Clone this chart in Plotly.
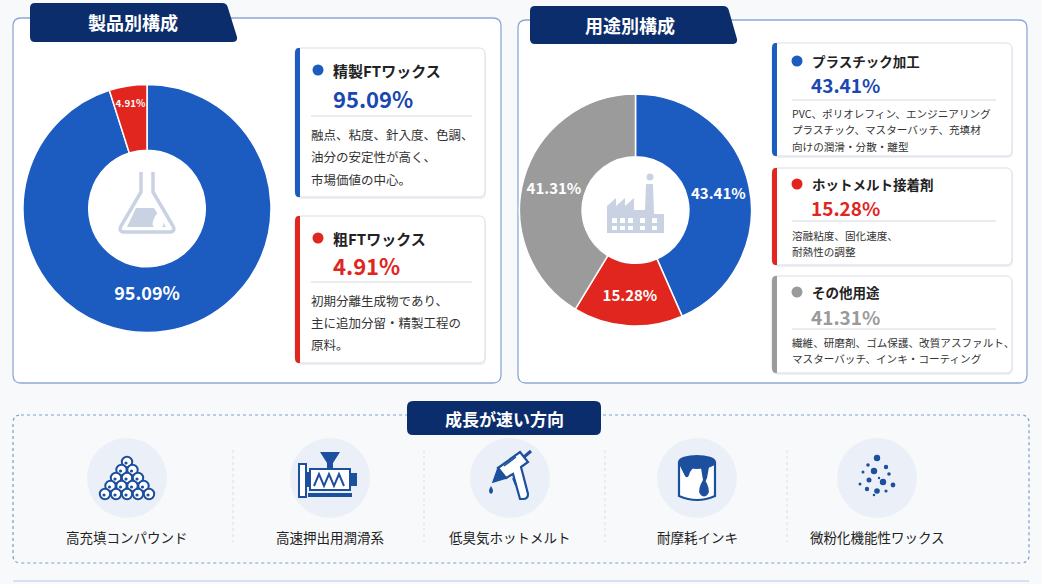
import plotly.graph_objects as go

W, H = 1042, 584
FONT = "Noto Sans CJK JP"

# Data
product_labels = ["精製FTワックス", "粗FTワックス"]
product_shares = [95.09, 4.91]
product_notes = [
    ["融点、粘度、針入度、色調、", "油分の安定性が高く、", "市場価値の中心。"],
    ["初期分離生成物であり、", "主に追加分留・精製工程の", "原料。"],
]

use_labels = ["プラスチック加工", "ホットメルト接着剤", "その他用途"]
use_shares = [43.41, 15.28, 41.31]
use_notes = [
    ["PVC、ポリオレフィン、エンジニアリング", "プラスチック、マスターバッチ、充填材", "向けの潤滑・分散・離型"],
    ["溶融粘度、固化速度、", "耐熱性の調整"],
    ["繊維、研磨剤、ゴム保護、改質アスファルト、", "マスターバッチ、インキ・コーティング"],
]

growth_labels = ["高充填コンパウンド", "高速押出用潤滑系", "低臭気ホットメルト", "耐摩耗インキ", "微粉化機能性ワックス"]

BLUE = "#1c5bbf"
RED = "#e0261f"
GREY = "#9b9b9b"
NAVY = "#0c2d6b"
ICON = "#c9d2e3"
ICON_BLUE = "#1d4f9f"
product_colors = [BLUE, RED]
use_colors = [BLUE, RED, GREY]
pct_colors = {BLUE: "#1a48b0", RED: "#e0261f", GREY: "#9a9a9a"}


def rrect(x0, y0, x1, y1, r):
    return (f"M{x0+r},{y0} L{x1-r},{y0} Q{x1},{y0} {x1},{y0+r} L{x1},{y1-r} "
            f"Q{x1},{y1} {x1-r},{y1} L{x0+r},{y1} Q{x0},{y1} {x0},{y1-r} "
            f"L{x0},{y0+r} Q{x0},{y0} {x0+r},{y0} Z")


def tab(x0, y0, x1top, x1bot, y1, r=5):
    return (f"M{x0+r},{y0} L{x1top-r},{y0} Q{x1top},{y0} {x1top+1},{y0+r} "
            f"L{x1bot},{y1-r} Q{x1bot+1},{y1} {x1bot-r},{y1} L{x0+r},{y1} "
            f"Q{x0},{y1} {x0},{y1-r} L{x0},{y0+r} Q{x0},{y0} {x0+r},{y0} Z")


def dom(cx, cy, r):
    return dict(x=[(cx - r) / W, (cx + r) / W], y=[1 - (cy + r) / H, 1 - (cy - r) / H])


shapes = []
annotations = []


def add_path(path, fill=None, line=None, width=0, dash=None):
    shapes.append(dict(type="path", path=path, xref="x", yref="y", layer="below",
                       fillcolor=fill or "rgba(0,0,0,0)",
                       line=dict(color=line or "rgba(0,0,0,0)", width=width, dash=dash)))


def add_circle(cx, cy, r, fill=None, line=None, width=0, ry=None):
    ry = r if ry is None else ry
    shapes.append(dict(type="circle", xref="x", yref="y", layer="below",
                       x0=cx - r, x1=cx + r, y0=cy - ry, y1=cy + ry,
                       fillcolor=fill or "rgba(0,0,0,0)",
                       line=dict(color=line or "rgba(0,0,0,0)", width=width)))


def add_line(x0, y0, x1, y1, color, width=1, dash=None):
    shapes.append(dict(type="line", xref="x", yref="y", layer="below",
                       x0=x0, y0=y0, x1=x1, y1=y1, line=dict(color=color, width=width, dash=dash)))


def add_text(x, y, text, size, color, anchor="left", bold=False):
    annotations.append(dict(x=x, y=y, xref="x", yref="y", text=f"<b>{text}</b>" if bold else text,
                            showarrow=False, xanchor=anchor, yanchor="middle",
                            font=dict(family=FONT, size=size, color=color)))


# Panels
add_path(rrect(13, 18, 501, 383, 8), fill="white", line="#8ea7d6", width=1.3)
add_path(rrect(518, 20, 1027, 383, 8), fill="white", line="#8ea7d6", width=1.3)
add_path(tab(30, 3, 227, 237, 42), fill=NAVY)
add_path(tab(530, 6, 728, 737, 44), fill=NAVY)
add_text(133, 22, "製品別構成", 18, "white", "center", True)
add_text(630, 25, "用途別構成", 18, "white", "center", True)


def card(x0, y0, x1, y1, color, label, share, notes, dot_y, pct_y, sep_y, note_y, gap,
         tsize, psize, nsize, tx, px, nx, sep_x1):
    add_path(rrect(x0 + 1, y0 + 2, x1 + 1, y1 + 2, 6), fill="#eef0f4")
    add_path(rrect(x0, y0, x1, y1, 6), fill="white", line="#d8dde8", width=1)
    add_path(f"M{x0+5},{y0} L{x0+3.5},{y0} Q{x0},{y0} {x0},{y0+5} L{x0},{y1-5} "
             f"Q{x0},{y1} {x0+3.5},{y1} L{x0+5},{y1} Z", fill=color)
    add_circle(tx - 13, dot_y, 5.5, fill=color)
    add_text(tx, dot_y, label, tsize, "#222222", bold=True)
    add_text(px, pct_y, f"{share:.2f}%", psize, pct_colors[color], bold=True)
    add_line(nx, sep_y, sep_x1, sep_y, "#d3d8e0", 1)
    for i, t in enumerate(notes):
        add_text(nx - 2, note_y + i * gap, t, nsize, "#333333")


card(295, 48, 485, 197, product_colors[0], product_labels[0], product_shares[0], product_notes[0],
     70, 98, 116, 134, 22.5, 15, 22, 12.5, 331, 331, 311, 472)
card(295, 216, 485, 363, product_colors[1], product_labels[1], product_shares[1], product_notes[1],
     238, 265, 282, 300, 22, 15, 22, 12.5, 331, 331, 311, 472)

right_boxes = [(43, 156, 61, 84, 100, 113), (168, 265, 184, 207, 221, 235), (276, 373, 292, 316, 329, 342)]
for i, (y0, y1, dy, py_, sy, ny) in enumerate(right_boxes):
    card(772, y0, 1012, y1, use_colors[i], use_labels[i], use_shares[i], use_notes[i],
         dy, py_, sy, ny, 16.5, 13.5, 19, 10.6, 810, 809, 792, 996)

# Flask icon in left hole
add_path("M141,172 L141,192 L121,226 Q118,232 125,232 L169,232 Q176,232 173,226 L153,192 L153,172",
         line=ICON, width=3.5)
add_path("M136,208 L154,208 L166,227 L127,227 Z", fill=ICON)
add_path("M158,212 Q151,222 153,226 Q158,232 163,226 Q165,222 158,212 Z", fill="white")

# Factory icon in right hole
add_path("M607,233 L607,206 L616,198 L616,206 L625,198 L625,206 L634,198 L634,210 L645,210 "
         "L646,184 L653,184 L654,214 L664,214 L664,233 Z", fill=ICON)
add_circle(650, 177, 3.5, fill=ICON)
for wx in [612, 620, 628, 640, 652]:
    add_path(rrect(wx, 218, wx + 5, 223, 0.5), fill="white")
    add_path(rrect(wx, 226, wx + 5, 230, 0.5), fill="white")

# Growth section
add_path(rrect(13, 415, 1029, 563, 8), line="#7e9bd1", width=1.2, dash="dot")
add_path(rrect(407, 401, 601, 435, 6), fill=NAVY)
add_text(504, 418, "成長が速い方向", 17, "white", "center", True)
add_line(13, 581, 1029, 581, "#cdd9ee", 1.5)

growth_x = [127, 330, 510, 697, 877]
for x in [233, 424, 605, 787]:
    add_line(x, 450, x, 542, "#d9dee8", 1, "dot")
for x, lab in zip(growth_x, growth_labels):
    add_circle(x, 478, 40, fill="#ebf0f8")
    add_text(x, 537, lab, 13.5, "#222222", "center")

# icon 1: pyramid of pellets
cx = growth_x[0]
rows = [1, 2, 3, 4, 5]
for ri, n in enumerate(rows):
    yy = 462 + ri * 8
    for k in range(n):
        xx = cx + (k - (n - 1) / 2) * 11
        add_circle(xx, yy, 5.2, fill="white", line=ICON_BLUE, width=2)
        add_circle(xx - 1, yy + 1, 1.6, fill=ICON_BLUE)

# icon 2: extruder
cx = growth_x[1]
add_path(f"M{cx-20},{469} L{cx+20},{469} L{cx+20},{490} L{cx-20},{490} Z", fill="white", line=ICON_BLUE, width=2)
add_path(f"M{cx-31},{464} L{cx-24},{464} L{cx-24},{497} L{cx-31},{497} Z", fill="white", line=ICON_BLUE, width=2)
add_path(f"M{cx-24},{472} L{cx-20},{472} L{cx-20},{487} L{cx-24},{487} Z", fill=ICON_BLUE)
add_path(f"M{cx-16},{486} L{cx-11},{474} L{cx-6},{486} L{cx-1},{474} L{cx+4},{486} L{cx+9},{474} L{cx+14},{486}",
         line=ICON_BLUE, width=2)
add_path(f"M{cx-10},{452} L{cx+10},{452} L{cx+3},{463} L{cx+3},{469} L{cx-3},{469} L{cx-3},{463} Z", fill=ICON_BLUE)
add_path(f"M{cx+20},{473} L{cx+27},{473} L{cx+27},{486} L{cx+20},{486} Z", fill=ICON_BLUE)
add_path(f"M{cx-22},{493} L{cx+22},{493} L{cx+22},{497} L{cx-22},{497} Z", fill=ICON_BLUE)

# icon 3: glue gun
cx = growth_x[2]
add_path(f"M{cx-12},{468} L{cx+10},{452} L{cx+18},{462} L{cx+11},{467} L{cx+18},{494} "
         f"Q{cx+18},{499} {cx+13},{499} L{cx+10},{499} L{cx+3},{474} L{cx-4},{478} Z",
         fill="white", line=ICON_BLUE, width=2.2)
add_path(f"M{cx-12},{468} L{cx-4},{478} L{cx-17},{482} Z", fill=ICON_BLUE, line=ICON_BLUE, width=1.5)
add_path(f"M{cx+14},{457} L{cx+21},{451}", line=ICON_BLUE, width=3)
add_path(f"M{cx-6},{466} L{cx+6},{457}", line=ICON_BLUE, width=1.5)
add_path(f"M{cx+3},{478} L{cx+6},{485}", line=ICON_BLUE, width=2)
add_path(f"M{cx-19},{486} Q{cx-23},{492} {cx-19},{494} Q{cx-15},{492} {cx-19},{486} Z", fill=ICON_BLUE)

# icon 4: paint can
cx = growth_x[3]
add_path(f"M{cx-18},{462} L{cx-18},{496} Q{cx},{504} {cx+18},{496} L{cx+18},{462}",
         fill="white", line=ICON_BLUE, width=2.2)
add_circle(cx, 462, 18, fill=ICON_BLUE, line=ICON_BLUE, width=2, ry=6)
add_path(f"M{cx-18},{464} L{cx-12},{476} Q{cx-9},{480} {cx-7},{472} L{cx-4},{468} L{cx+4},{468} "
         f"L{cx+6},{480} Q{cx+8},{484} {cx+10},{478} L{cx+12},{467} Z", fill=ICON_BLUE)
add_path(f"M{cx+7},{478} Q{cx},{490} {cx+3},{494} Q{cx+7},{499} {cx+11},{494} Q{cx+14},{490} {cx+7},{478} Z",
         fill=ICON_BLUE)

# icon 5: powder dots
cx = growth_x[4]
dots = [(0, -20, 3.2), (-9, -13, 1.8), (9, -11, 2.2), (-3, -7, 3.2), (-14, -6, 1.5), (12, -4, 1.8),
        (2, 0, 1.2), (-8, 2, 2.5), (6, 4, 3.2), (-17, 6, 1.5), (16, 7, 2.4), (-10, 11, 2.2),
        (0, 13, 2.8), (9, 13, 1.6), (-3, 17, 1.3)]
for dx, dy, r in dots:
    add_circle(cx + dx, 478 + dy, r, fill=ICON_BLUE)

fig = go.Figure()

fig.add_trace(go.Pie(
    labels=product_labels, values=product_shares, hole=0.47, sort=False, direction="clockwise",
    marker=dict(colors=product_colors, line=dict(color="white", width=1.5)),
    texttemplate="<b>%{value:.2f}%</b>", textposition="inside", insidetextorientation="horizontal",
    textfont=dict(family=FONT, size=18, color="white"),
    domain=dom(147, 208.5, 124), showlegend=False, hoverinfo="label+percent",
))

fig.add_trace(go.Pie(
    labels=use_labels, values=use_shares, hole=0.46, sort=False, direction="clockwise",
    marker=dict(colors=use_colors, line=dict(color="white", width=1.5)),
    texttemplate="<b>%{value:.2f}%</b>", textposition="inside", insidetextorientation="horizontal",
    textfont=dict(family=FONT, size=15, color="white"),
    domain=dom(635.5, 210, 116), showlegend=False, hoverinfo="label+percent",
))

fig.update_layout(
    width=W, height=H,
    margin=dict(l=0, r=0, t=0, b=0),
    xaxis=dict(range=[0, W], visible=False, fixedrange=True, domain=[0, 1]),
    yaxis=dict(range=[H, 0], visible=False, fixedrange=True, domain=[0, 1]),
    shapes=shapes,
    annotations=annotations,
    paper_bgcolor="#f8f9fb",
    plot_bgcolor="#f8f9fb",
    showlegend=False,
)

fig.write_html("out.html", config={"displayModeBar": False},
               post_script="document.body.style.margin='0';document.body.style.overflow='hidden';")
